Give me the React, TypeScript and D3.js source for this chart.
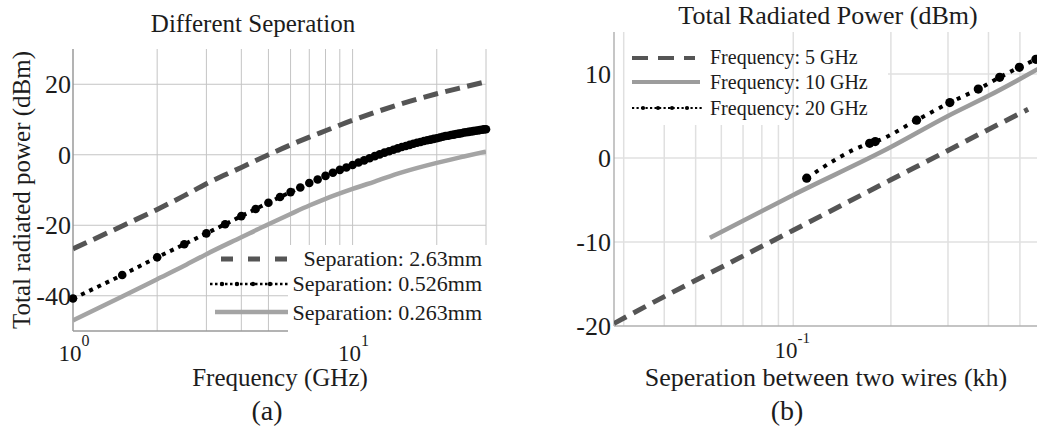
import React from "react";
import * as d3 from "d3";

const FONT = "'Liberation Serif', 'Times New Roman', serif";
const INK = "#1c1c1c";

// ---- panel (a): Different Seperation ----
const freqCurve = [1, 1.5, 2, 2.5, 3, 4, 5, 6, 7, 8, 10, 12, 15, 20, 25, 30];
const sep263 = [-26.7, -20.2, -15.5, -11.6, -8.2, -3.6, 0.0, 2.8, 5.0, 6.8, 9.8, 12.0, 14.5, 17.3, 19.2, 20.7];
const sep0263 = [-47, -40.2, -35.3, -31.5, -28.2, -23.4, -19.7, -16.8, -14.4, -12.5, -9.7, -7.6, -5.0, -2.3, -0.5, 0.9];

const freqMarkers = [
  1, 1.5, 2, 2.5, 3, 3.5, 4, 4.5, 5, 5.5, 6, 6.5, 7, 7.5, 8, 8.5, 9, 9.5, 10, 10.5,
  11, 11.5, 12, 12.5, 13, 13.5, 14, 14.5, 15, 15.5, 16, 16.5, 17, 17.5, 18, 18.5, 19, 19.5,
  20, 20.5, 21, 21.5, 22, 22.5, 23, 23.5, 24, 24.5, 25, 25.5, 26, 26.5, 27, 27.5, 28, 28.5,
  29, 29.5, 30,
];
const sep0526 = [
  -40.8, -34.1, -29.1, -25.4, -22.3, -19.7, -17.4, -15.4, -13.6, -12.0, -10.6, -9.3, -8.0, -7.0,
  -6.0, -5.1, -4.3, -3.6, -2.9, -2.2, -1.6, -1.0, -0.4, 0.1, 0.6, 1.0, 1.4, 1.8, 2.2, 2.5, 2.8,
  3.1, 3.4, 3.6, 3.9, 4.1, 4.3, 4.5, 4.7, 4.9, 5.1, 5.3, 5.4, 5.6, 5.7, 5.9, 6.0, 6.1, 6.3, 6.4,
  6.5, 6.6, 6.7, 6.8, 6.9, 7.0, 7.1, 7.2, 7.25,
];
const yTicksA = [-40, -20, 0, 20];
const legendA = ["Separation: 2.63mm", "Separation: 0.526mm", "Separation: 0.263mm"];

// ---- panel (b): Total Radiated Power (dBm) ----
const kh5 = [0.028, 0.04, 0.06, 0.1, 0.2, 0.3, 0.4, 0.53];
const p5 = [-19.7, -16.5, -13.0, -8.6, -2.6, 0.9, 3.4, 5.8];
const kh10 = [0.0553, 0.1, 0.2, 0.3, 0.4, 0.5, 0.6];
const p10 = [-9.5, -4.4, 1.3, 5.0, 7.4, 9.4, 11.1];
const kh20 = [0.11, 0.172, 0.179, 0.24, 0.304, 0.372, 0.433, 0.498, 0.56, 0.62];
const p20 = [-2.4, 1.75, 1.95, 4.5, 6.6, 8.2, 9.6, 10.8, 11.75, 12.6];
const yTicksB = [-20, -10, 0, 10];
const legendB = ["Frequency: 5 GHz", "Frequency: 10 GHz", "Frequency: 20 GHz"];

const App = () => {
  const xA = d3.scaleLog().domain([1, 30]).range([73, 486]);
  const yA = d3.scaleLinear().domain([-50, 30]).range([331, 49]);
  const xB = d3.scaleLog().domain([0.028, 0.6]).range([614, 1045.6]);
  const yB = d3.scaleLinear().domain([-20, 15]).range([326, 32]);

  const lineA = d3
    .line<[number, number]>()
    .x((d) => xA(d[0]))
    .y((d) => yA(d[1]))
    .curve(d3.curveMonotoneX);
  const lineB = d3
    .line<[number, number]>()
    .x((d) => xB(d[0]))
    .y((d) => yB(d[1]))
    .curve(d3.curveMonotoneX);

  const zip = (xs: number[], ys: number[]) => xs.map((x, i) => [x, ys[i]] as [number, number]);
  const gridA = xA.ticks().filter((t) => t > 1);
  const gridB = xB.ticks().filter((t) => t > 0.028);

  return (
    <svg
      width={1037}
      height={429}
      style={{ position: "absolute", left: 0, top: 0, background: "#fff" }}
      fontFamily={FONT}
    >
      <defs>
        <clipPath id="clipA">
          <rect x={73} y={49} width={413} height={282} />
        </clipPath>
        <clipPath id="clipB">
          <rect x={614} y={32} width={432} height={294} />
        </clipPath>
      </defs>

      {/* ===== panel (a) ===== */}
      <g>
        {gridA.map((t) => (
          <line key={t} x1={xA(t)} x2={xA(t)} y1={49} y2={331} stroke="#c4c4c4" strokeWidth={1} />
        ))}
        {yTicksA.map((t) => (
          <line key={t} x1={73} x2={486} y1={yA(t)} y2={yA(t)} stroke="#c4c4c4" strokeWidth={1} />
        ))}
        <line x1={73} x2={73} y1={49} y2={331} stroke="#8a8a8a" strokeWidth={1.3} />
        <line x1={73} x2={486} y1={331} y2={331} stroke="#9a9a9a" strokeWidth={1.3} />
        {/* legend box */}
        <rect x={288} y={245} width={204} height={92} fill="#fff" />

        <g clipPath="url(#clipA)" fill="none">
          <path d={lineA(zip(freqCurve, sep263)) || ""} stroke="#555" strokeWidth={5} strokeDasharray="15 7.5" />
          <path d={lineA(zip(freqCurve, sep0263)) || ""} stroke="#a4a4a4" strokeWidth={4.5} />
          <path d={lineA(zip(freqMarkers, sep0526)) || ""} stroke="#000" strokeWidth={4} strokeDasharray="4 5" />
        </g>
        {freqMarkers.map((f, i) => (
          <circle key={f} cx={xA(f)} cy={yA(sep0526[i])} r={4.3} fill="#000" />
        ))}

        {yTicksA.map((t) => (
          <text key={t} x={71} y={yA(t)} dy="0.35em" textAnchor="end" fontSize={26} fill={INK}>
            {t}
          </text>
        ))}
        {[1, 10].map((t, i) => (
          <text key={t} x={xA(t) + 1} y={361} textAnchor="middle" fontSize={23} fill={INK}>
            10
            <tspan dy={-15} fontSize={16}>
              {i}
            </tspan>
          </text>
        ))}
        <text x={253} y={32} textAnchor="middle" fontSize={25} fill={INK}>
          Different Seperation
        </text>
        <text x={280} y={386} textAnchor="middle" fontSize={25} fill={INK}>
          Frequency (GHz)
        </text>
        <text transform="translate(30,190) rotate(-90)" textAnchor="middle" fontSize={25} fill={INK}>
          Total radiated power (dBm)
        </text>
        <text x={267} y={420} textAnchor="middle" fontSize={28} fill={INK}>
          (a)
        </text>

        {/* legend content */}
        <line x1={221} x2={288} y1={259} y2={259} stroke="#555" strokeWidth={5} strokeDasharray="12 15" />
        <line x1={210} x2={288} y1={284} y2={284} stroke="#000" strokeWidth={2.5} strokeDasharray="2.5 2.5" />
        {[222, 237, 253, 270].map((x) => (
          <circle key={x} cx={x} cy={284} r={2.2} fill="#000" />
        ))}
        <line x1={215} x2={288} y1={312} y2={312} stroke="#a4a4a4" strokeWidth={4.5} />
        {legendA.map((s, i) => (
          <text key={s} x={482} y={[266, 291, 320][i]} textAnchor="end" fontSize={22} fill={INK}>
            {s}
          </text>
        ))}
      </g>

      {/* ===== panel (b) ===== */}
      <g>
        {gridB.map((t) => (
          <line
            key={t}
            x1={xB(t)}
            x2={xB(t)}
            y1={t < 0.1 && t > 0.035 ? 125 : 32}
            y2={326}
            stroke="#e0e0e0"
            strokeWidth={1.5}
          />
        ))}
        {yTicksB
          .filter((t) => t > -20)
          .map((t) => (
            <line
              key={t}
              x1={t === 10 ? 888 : 614}
              x2={1046}
              y1={yB(t)}
              y2={yB(t)}
              stroke="#e0e0e0"
              strokeWidth={1.5}
            />
          ))}
        <line x1={614} x2={614} y1={32} y2={326} stroke="#a8a8a8" strokeWidth={1.3} />
        <line x1={614} x2={1046} y1={326} y2={326} stroke="#b0b0b0" strokeWidth={1.3} />

        <g clipPath="url(#clipB)" fill="none">
          <path d={lineB(zip(kh5, p5)) || ""} stroke="#555" strokeWidth={5} strokeDasharray="14 8" />
          <path d={lineB(zip(kh10, p10)) || ""} stroke="#9c9c9c" strokeWidth={4.5} />
          <path d={lineB(zip(kh20, p20)) || ""} stroke="#000" strokeWidth={4} strokeDasharray="4 6" />
        </g>
        {kh20.map((k, i) => (
          <circle key={k} cx={xB(k)} cy={yB(p20[i])} r={4.6} fill="#000" />
        ))}

        {yTicksB.map((t) => (
          <text key={t} x={611} y={yB(t)} dy="0.35em" textAnchor="end" fontSize={26} fill={INK}>
            {t}
          </text>
        ))}
        <text x={xB(0.1) - 1} y={358} textAnchor="middle" fontSize={23} fill={INK}>
          10
          <tspan dy={-15} fontSize={15}>
            -1
          </tspan>
        </text>
        <text x={828} y={24} textAnchor="middle" fontSize={26} fill={INK}>
          Total Radiated Power (dBm)
        </text>
        <text x={826} y={386} textAnchor="middle" fontSize={26} fill={INK}>
          Seperation between two wires (kh)
        </text>
        <text x={787} y={420} textAnchor="middle" fontSize={28} fill={INK}>
          (b)
        </text>

        {/* legend content */}
        <line x1={632} x2={695} y1={58} y2={58} stroke="#555" strokeWidth={4} strokeDasharray="16 10" />
        <line x1={632} x2={700} y1={82} y2={82} stroke="#9c9c9c" strokeWidth={4} />
        <line x1={632} x2={703} y1={108} y2={108} stroke="#000" strokeWidth={2.2} strokeDasharray="2.2 2.3" />
        {[643, 658, 672, 687].map((x) => (
          <circle key={x} cx={x} cy={108} r={2.1} fill="#000" />
        ))}
        {legendB.map((s, i) => (
          <text key={s} x={710} y={[64, 89, 115][i]} fontSize={20} fill={INK}>
            {s}
          </text>
        ))}
      </g>
    </svg>
  );
};

export default App;
